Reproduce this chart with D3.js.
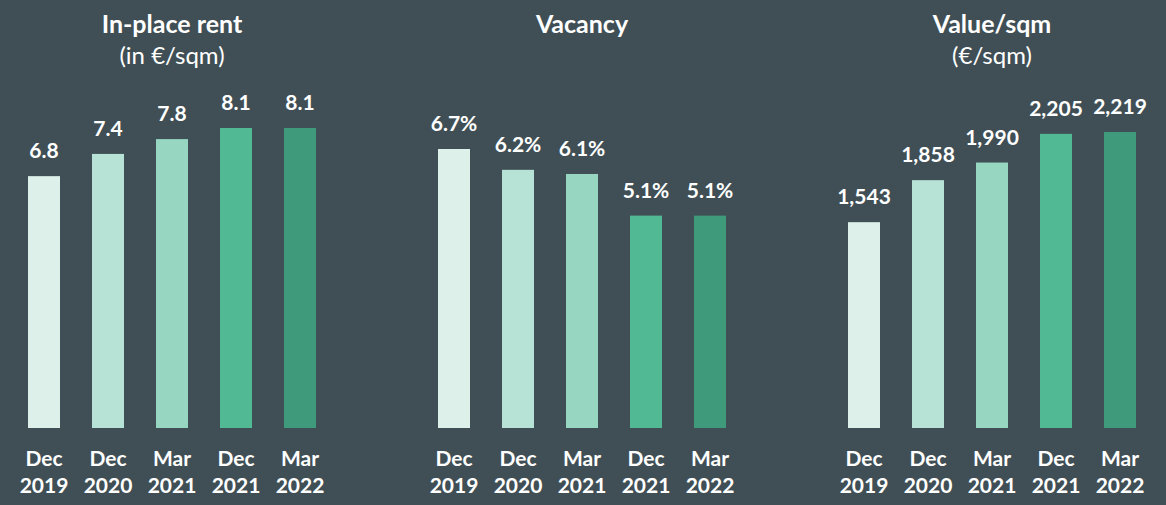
<!DOCTYPE html>
<html>
<head>
<meta charset="utf-8">
<script src="https://cdn.jsdelivr.net/npm/d3@7"></script>
<style>
  html, body { margin: 0; padding: 0; background: #404f55; }
  svg { display: block; }
  text { font-family: Lato, "Open Sans", sans-serif; fill: #ffffff; }
</style>
</head>
<body>
<div id="chart"></div>
<script>
// dados
const periods = ["Dec 2019", "Dec 2020", "Mar 2021", "Dec 2021", "Mar 2022"];
const rentValues = [6.8, 7.4, 7.8, 8.1, 8.1];
const vacancyValues = [6.7, 6.2, 6.1, 5.1, 5.1];
const valueSqmValues = [1543, 1858, 1990, 2205, 2219];
const panelTitles = ["In-place rent", "Vacancy", "Value/sqm"];
const panelSubtitles = ["(in €/sqm)", "", "(€/sqm)"];
const barColors = ["#ddf1ea", "#b6e3d5", "#97d6c1", "#52b995", "#3e9a7a"];

const width = 1166, height = 505;
const baseY = 428;

const svg = d3.select("#chart").append("svg")
    .attr("width", width)
    .attr("height", height);

// cada painel: valores, formato e altura do maior valor
const panels = [
    {values: rentValues, fmt: d3.format(".1f"), top: 128, cx: 172},
    {values: vacancyValues, fmt: v => d3.format(".1f")(v) + "%", top: 149, cx: 582},
    {values: valueSqmValues, fmt: d3.format(","), top: 132, cx: 992}
];

panels.forEach((p, i) => {
    const g = svg.append("g");

    const x = d3.scaleBand()
        .domain(periods)
        .range([p.cx - 160, p.cx + 160])
        .paddingInner(0.5)
        .paddingOuter(0.25);

    const y = d3.scaleLinear()
        .domain([0, d3.max(p.values)])
        .range([baseY, p.top]);

    const rows = periods.map((d, j) => ({period: d, value: p.values[j], color: barColors[j]}));

    g.selectAll("rect")
        .data(rows)
        .enter().append("rect")
            .attr("x", d => x(d.period))
            .attr("y", d => y(d.value))
            .attr("width", x.bandwidth())
            .attr("height", d => y(0) - y(d.value))
            .attr("fill", d => d.color);

    g.selectAll(".val")
        .data(rows)
        .enter().append("text")
            .attr("class", "val")
            .attr("x", d => x(d.period) + x.bandwidth() / 2)
            .attr("y", d => y(d.value) - 18)
            .attr("text-anchor", "middle")
            .attr("font-weight", "bold")
            .style("font-size", "21px")
            .text(d => p.fmt(d.value));

    // rótulos do eixo x em duas linhas
    const lab = g.selectAll(".lab")
        .data(rows)
        .enter().append("text")
            .attr("class", "lab")
            .attr("text-anchor", "middle")
            .attr("font-weight", "bold")
            .style("font-size", "21px");
    lab.append("tspan")
        .attr("x", d => x(d.period) + x.bandwidth() / 2)
        .attr("y", 466)
        .text(d => d.period.split(" ")[0]);
    lab.append("tspan")
        .attr("x", d => x(d.period) + x.bandwidth() / 2)
        .attr("y", 493)
        .text(d => d.period.split(" ")[1]);

    g.append("text")
        .attr("x", p.cx)
        .attr("y", 33)
        .attr("text-anchor", "middle")
        .attr("font-weight", "bold")
        .style("font-size", "25px")
        .text(panelTitles[i]);

    g.append("text")
        .attr("x", p.cx)
        .attr("y", 64)
        .attr("text-anchor", "middle")
        .style("font-size", "24px")
        .text(panelSubtitles[i]);
});
</script>
</body>
</html>
